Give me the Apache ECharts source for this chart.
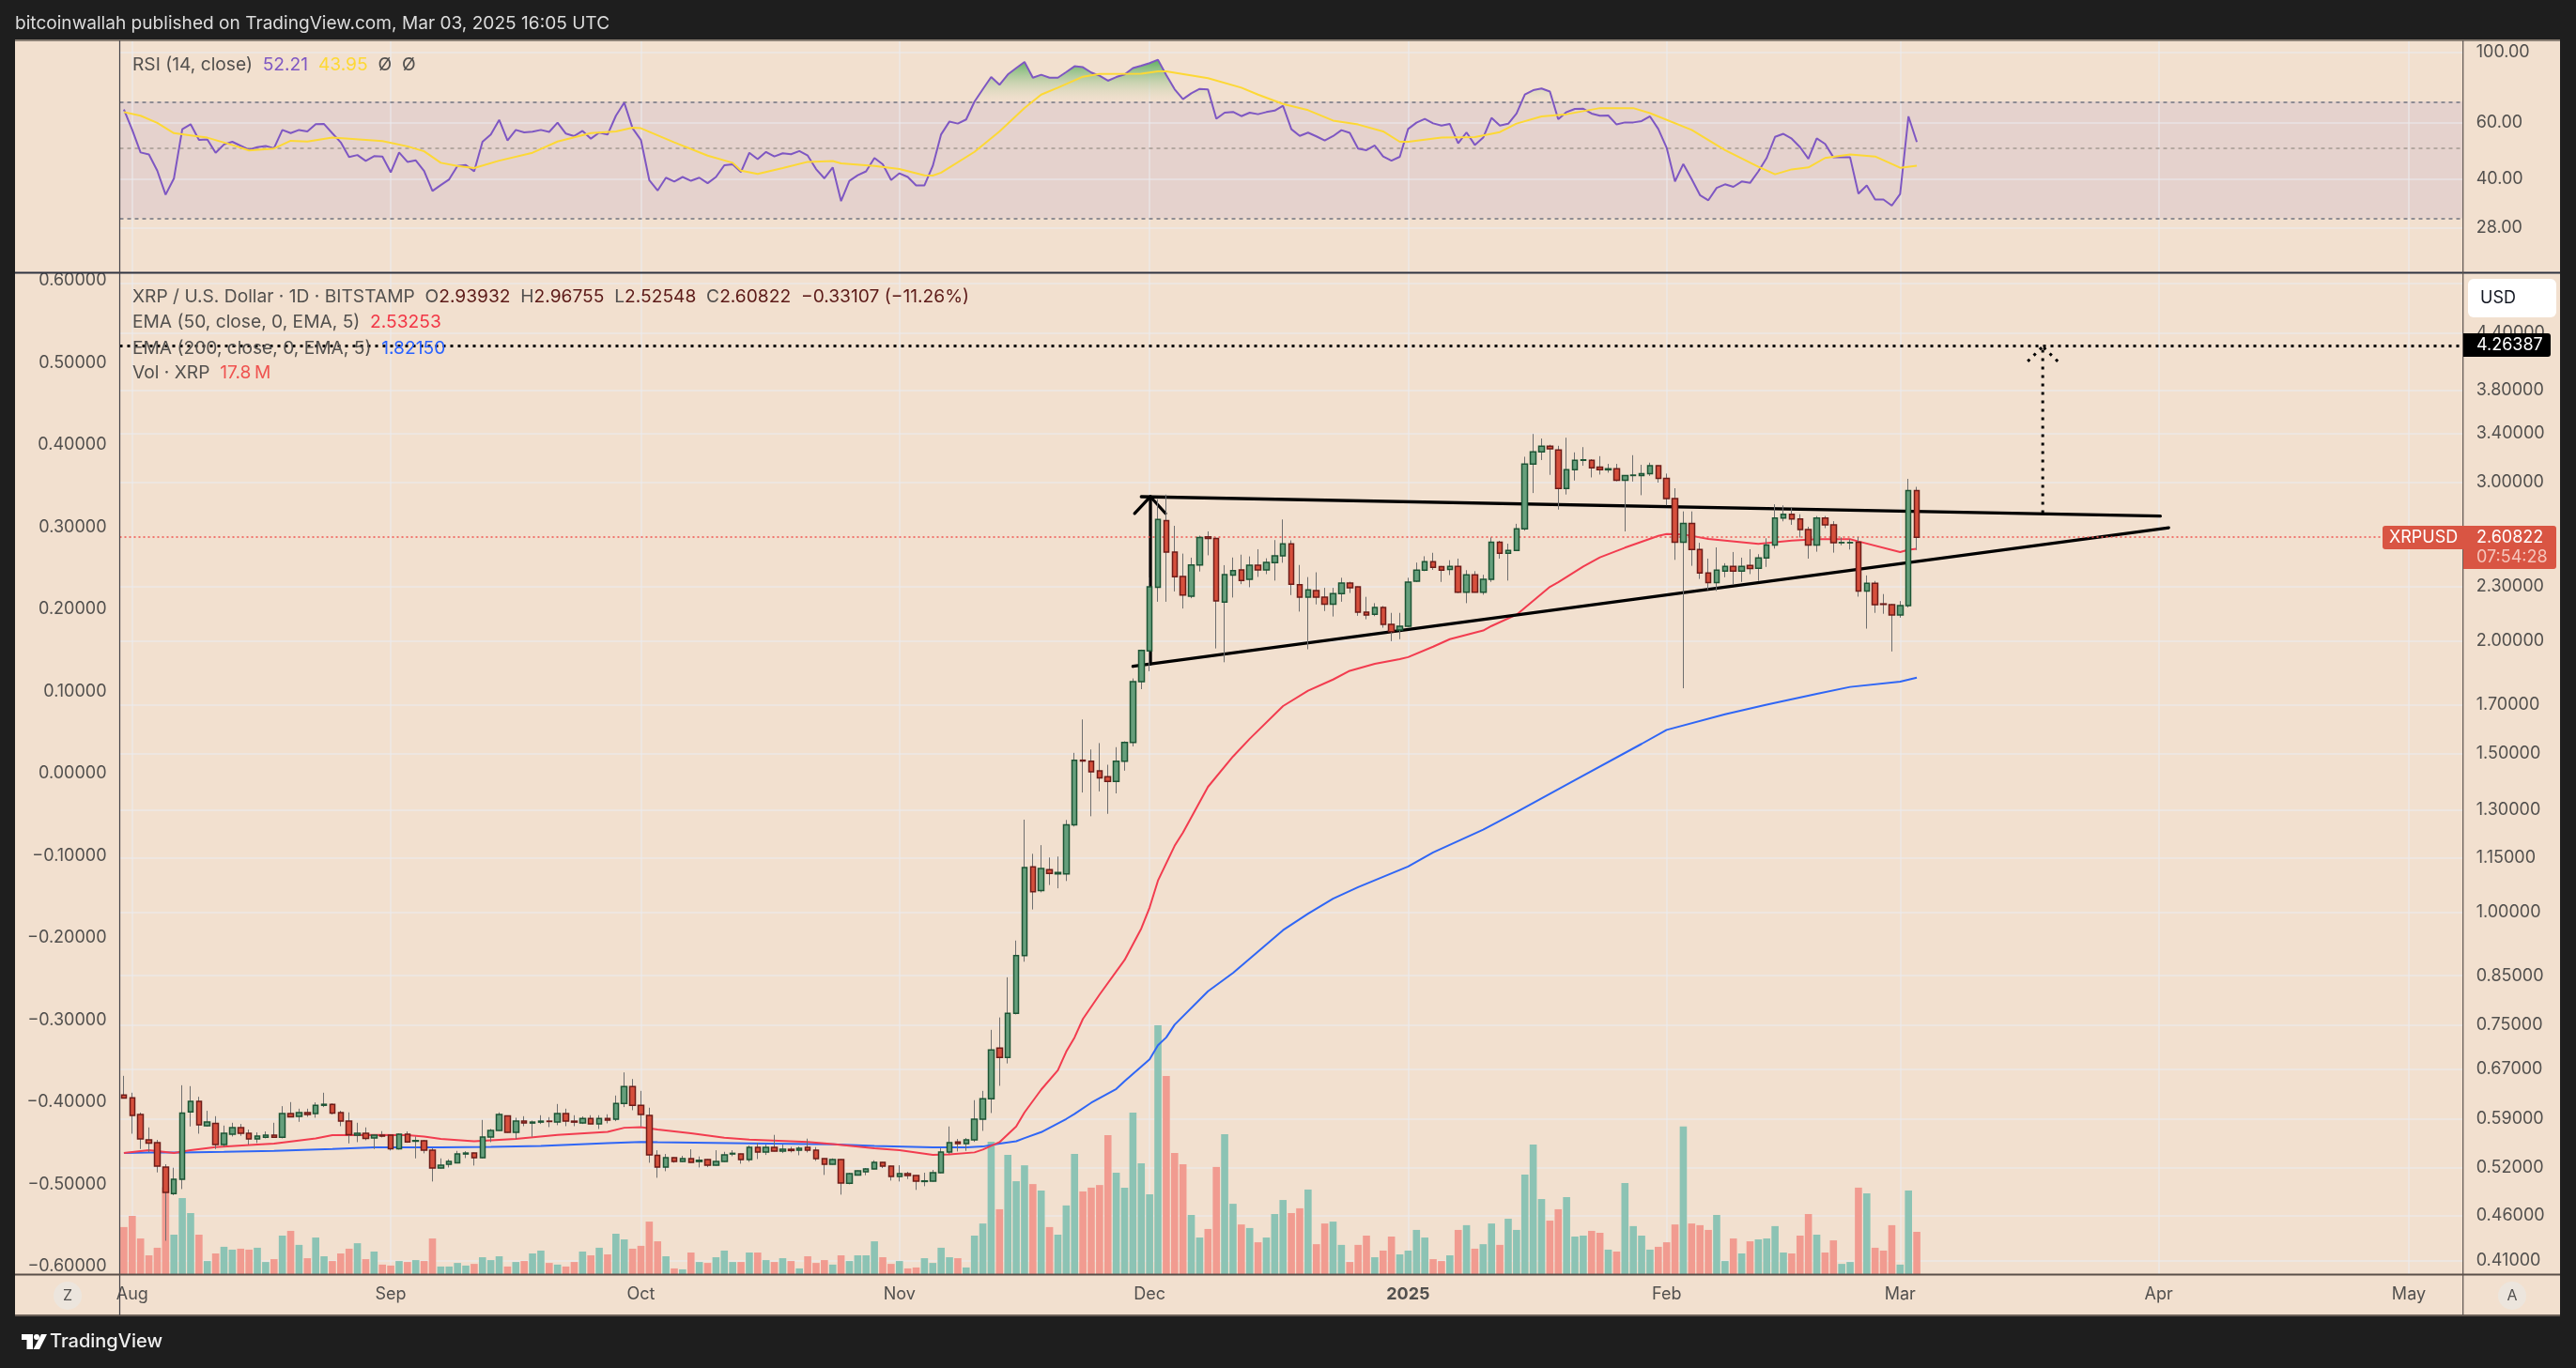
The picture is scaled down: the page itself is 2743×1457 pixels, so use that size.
<!DOCTYPE html>
<html><head><meta charset="utf-8"><style>html,body{margin:0;padding:0;background:#1e1e1e}#c{width:2743px;height:1457px}</style>
<script src="https://cdn.jsdelivr.net/npm/echarts@6/dist/echarts.min.js"></script></head><body><div id="c"></div><script>
// [open, high, low, close] one row per day from 2024-07-31
const ohlc=[
[.6267,.6580,.6218,.6218],[.6222,.6302,.5675,.5945],[.5960,.5990,.5457,.5599],[.5586,.5767,.5414,.5541],[.5545,.5586,.5140,.5223],
[.5210,.5248,.4316,.4883],[.4868,.5202,.4850,.5050],[.5050,.6424,.4926,.5983],[.6002,.6409,.5781,.6163],[.6163,.6237,.5675,.5804],
[.5790,.6017,.5780,.5846],[.5827,.5935,.5457,.5519],[.5519,.5794,.5488,.5680],[.5667,.5836,.5635,.5762],[.5762,.5818,.5644,.5680],
[.5680,.5735,.5519,.5599],[.5599,.5694,.5541,.5640],[.5622,.5708,.5608,.5653],[.5653,.5836,.5618,.5622],[.5622,.6089,.5608,.5974],
[.5974,.6153,.5922,.5926],[.5931,.6050,.5850,.5988],[.5988,.6050,.5926,.5960],[.5974,.6148,.5912,.6103],[.6103,.6302,.6075,.6118],
[.6118,.6133,.5960,.5983],[.5988,.6017,.5785,.5860],[.5860,.5993,.5536,.5662],[.5653,.5836,.5554,.5680],[.5680,.5767,.5581,.5608],
[.5613,.5660,.5457,.5653],[.5653,.5712,.5622,.5640],[.5653,.5660,.5436,.5462],[.5462,.5680,.5449,.5667],[.5667,.5708,.5545,.5558],
[.5567,.5635,.5328,.5576],[.5572,.5586,.5397,.5440],[.5440,.5466,.5022,.5197],[.5197,.5328,.5190,.5235],[.5248,.5316,.5206,.5285],
[.5268,.5431,.5262,.5388],[.5388,.5427,.5332,.5401],[.5401,.5410,.5231,.5337],[.5337,.5878,.5330,.5626],[.5626,.5744,.5554,.5721],
[.5721,.5993,.5715,.5960],[.5940,.5945,.5690,.5694],[.5694,.5912,.5599,.5860],[.5860,.5935,.5785,.5832],[.5832,.5869,.5631,.5846],
[.5846,.5950,.5818,.5860],[.5860,.5921,.5772,.5855],[.5846,.6123,.5800,.5974],[.5974,.6050,.5785,.5860],[.5860,.5950,.5785,.5846],
[.5832,.5931,.5818,.5902],[.5902,.5950,.5815,.5818],[.5818,.5950,.5744,.5902],[.5902,.5964,.5827,.5874],[.5888,.6257,.5860,.6133],
[.6133,.6638,.6075,.6404],[.6404,.6527,.6026,.6103],[.6103,.6332,.5781,.5960],[.5945,.6065,.5269,.5375],[.5370,.5440,.5070,.5210],
[.5210,.5388,.5156,.5337],[.5337,.5345,.5269,.5285],[.5285,.5362,.5280,.5324],[.5324,.5453,.5270,.5273],[.5285,.5354,.5206,.5302],
[.5311,.5318,.5210,.5235],[.5235,.5440,.5230,.5285],[.5285,.5418,.5280,.5375],[.5388,.5440,.5358,.5397],[.5388,.5392,.5256,.5311],
[.5311,.5506,.5281,.5479],[.5479,.5545,.5319,.5414],[.5414,.5519,.5375,.5479],[.5479,.5658,.5424,.5427],[.5427,.5519,.5401,.5453],
[.5453,.5488,.5410,.5436],[.5440,.5492,.5370,.5466],[.5479,.5604,.5410,.5440],[.5440,.5484,.5294,.5324],[.5324,.5328,.5107,.5248],
[.5248,.5328,.5244,.5311],[.5311,.5318,.4856,.5002],[.4998,.5136,.4986,.5123],[.5107,.5166,.5099,.5160],[.5148,.5197,.5103,.5185],
[.5185,.5302,.5180,.5273],[.5273,.5277,.5197,.5223],[.5223,.5228,.5034,.5086],[.5086,.5235,.5022,.5123],[.5123,.5148,.5054,.5099],
[.5099,.5103,.4915,.5026],[.5022,.5136,.4962,.5030],[.5026,.5173,.5020,.5136],[.5136,.5466,.5130,.5414],[.5414,.5781,.5388,.5545],
[.5558,.5599,.5423,.5532],[.5532,.5613,.5431,.5586],[.5586,.6183,.5558,.5888],[.5888,.6332,.5716,.6207],[.6207,.7401,.5983,.7032],
[.7065,.7640,.6414,.6898],[.6898,.8466,.6792,.7720],[.7720,.9300,.7700,.8950],[.8950,1.267,.8810,1.121],[1.123,1.161,1.007,1.054],
[1.057,1.187,1.052,1.118],[1.115,1.150,1.072,1.104],[1.103,1.153,1.063,1.107],[1.103,1.266,1.083,1.250],[1.250,1.503,1.245,1.475],
[1.475,1.637,1.358,1.472],[1.471,1.516,1.278,1.432],[1.435,1.541,1.362,1.410],[1.414,1.458,1.286,1.397],[1.397,1.525,1.355,1.471],
[1.471,1.548,1.436,1.544],[1.544,1.818,1.528,1.803],[1.803,1.957,1.769,1.953],[1.951,2.354,1.852,2.298],[2.296,2.876,2.212,2.730],
[2.722,2.909,2.212,2.511],[2.511,2.686,2.271,2.358],[2.360,2.502,2.174,2.250],[2.243,2.476,2.232,2.430],[2.430,2.619,2.390,2.607],
[2.612,2.648,2.491,2.600],[2.600,2.606,1.963,2.217],[2.210,2.429,1.895,2.371],[2.368,2.477,2.236,2.395],[2.400,2.495,2.314,2.335],
[2.342,2.484,2.296,2.428],[2.428,2.530,2.357,2.400],[2.400,2.472,2.374,2.446],[2.444,2.590,2.335,2.487],[2.487,2.730,2.444,2.565],
[2.565,2.588,2.250,2.314],[2.310,2.430,2.157,2.238],[2.238,2.356,1.959,2.280],[2.276,2.385,2.197,2.238],[2.238,2.292,2.160,2.198],
[2.198,2.292,2.130,2.258],[2.258,2.352,2.212,2.320],[2.320,2.328,2.262,2.292],[2.298,2.300,2.134,2.154],[2.154,2.240,2.115,2.138],
[2.142,2.204,2.132,2.180],[2.180,2.188,2.070,2.088],[2.088,2.150,2.000,2.049],[2.058,2.150,2.010,2.078],[2.078,2.352,2.074,2.326],
[2.331,2.445,2.326,2.398],[2.398,2.485,2.392,2.450],[2.450,2.507,2.400,2.415],[2.420,2.424,2.327,2.398],[2.402,2.460,2.368,2.421],
[2.421,2.470,2.262,2.267],[2.267,2.398,2.204,2.370],[2.370,2.392,2.265,2.267],[2.267,2.370,2.252,2.342],[2.342,2.608,2.327,2.576],
[2.576,2.585,2.470,2.504],[2.504,2.566,2.335,2.522],[2.522,2.700,2.518,2.666],[2.666,3.205,2.653,3.145],[3.145,3.397,2.921,3.246],
[3.246,3.358,3.178,3.293],[3.293,3.305,3.060,3.270],[3.262,3.296,2.800,2.955],[2.955,3.365,2.910,3.100],[3.100,3.241,3.016,3.176],
[3.176,3.285,3.132,3.180],[3.176,3.185,3.040,3.115],[3.122,3.210,3.062,3.100],[3.100,3.147,3.077,3.108],[3.108,3.147,3.010,3.018],
[3.018,3.058,2.648,3.055],[3.055,3.218,3.008,3.058],[3.055,3.140,2.905,3.070],[3.070,3.157,3.052,3.132],[3.132,3.136,3.000,3.033],
[3.033,3.070,2.830,2.880],[2.880,2.957,2.462,2.576],[2.576,2.787,1.773,2.703],[2.703,2.787,2.425,2.528],[2.528,2.572,2.345,2.381],
[2.381,2.470,2.280,2.323],[2.323,2.542,2.274,2.398],[2.392,2.441,2.355,2.421],[2.421,2.512,2.312,2.392],[2.392,2.476,2.327,2.421],
[2.427,2.530,2.374,2.408],[2.410,2.498,2.333,2.474],[2.474,2.602,2.418,2.558],[2.558,2.838,2.534,2.740],[2.740,2.830,2.717,2.767],
[2.767,2.814,2.693,2.733],[2.733,2.767,2.607,2.660],[2.660,2.680,2.470,2.558],[2.558,2.754,2.514,2.740],[2.740,2.754,2.670,2.692],
[2.692,2.718,2.508,2.572],[2.572,2.608,2.556,2.574],[2.572,2.596,2.528,2.574],[2.576,2.610,2.241,2.274],[2.274,2.366,2.065,2.319],
[2.319,2.333,2.150,2.195],[2.200,2.256,2.145,2.197],[2.195,2.200,1.948,2.139],[2.139,2.216,2.124,2.190],[2.190,3.029,2.180,2.939],
[2.93932,2.96755,2.52548,2.60822]];
const volumes=[19.8,24.5,15.0,7.9,11.1,36.6,16.6,32.0,25.7,16.6,5.5,8.7,11.5,10.3,10.7,10.3,11.1,5.1,6.3,16.2,
18.2,12.3,6.7,15.4,7.5,5.5,8.7,10.7,13.0,6.3,9.5,4.0,3.6,5.5,5.1,5.9,5.5,15.0,3.2,3.2,
4.7,3.6,4.3,7.1,5.9,7.5,3.2,5.1,5.5,8.7,9.9,4.7,4.0,3.2,5.1,9.5,7.9,11.1,8.3,17.0,
14.6,10.7,11.9,22.1,13.8,7.5,2.4,2.0,9.1,5.1,4.7,7.1,9.9,5.1,5.1,9.1,9.1,5.9,5.1,6.7,
5.5,2.4,7.5,4.7,5.9,4.0,7.9,5.5,7.9,7.9,13.8,7.1,4.3,5.5,2.4,2.8,6.7,4.7,11.1,7.1,
6.7,2.8,16.2,21.3,55.7,27.3,50.2,39.1,45.8,37.9,35.2,19.8,16.6,28.9,50.6,34.8,36.4,37.5,58.5,42.7,
36.4,68.0,46.6,33.6,104.7,83.4,51.0,46.2,24.9,15.4,19.0,45.1,58.9,29.6,20.9,19.4,13.4,15.4,25.3,31.2,
25.7,27.7,35.6,12.6,21.3,22.1,12.3,5.1,12.3,16.2,7.1,9.9,15.8,8.3,9.9,18.6,15.4,6.3,5.5,7.9,
18.6,20.6,10.7,12.6,21.3,12.3,23.3,18.6,41.9,54.5,31.6,22.5,27.3,32.4,15.8,16.2,18.2,17.4,10.3,9.5,
38.3,20.2,16.2,10.3,11.5,13.4,20.9,62.1,21.3,20.6,18.6,24.9,5.5,15.0,8.7,13.8,14.6,15.0,20.2,9.1,
8.7,16.2,25.3,16.6,9.1,14.2,4.3,5.1,36.4,34.0,11.1,9.9,20.6,4.0,35.2,17.8];
const rsi=[66.1,57.0,48.4,47.7,42.4,35.6,40.1,57.3,59.4,53.0,53.2,48.3,51.3,52.3,50.8,49.4,50.3,50.7,49.9,57.0,
55.7,57.0,56.4,59.4,59.5,55.6,52.1,46.8,47.5,45.5,47.1,47.0,41.9,48.4,45.2,45.7,42.3,36.6,38.2,39.8,
43.9,44.2,42.2,52.3,55.1,61.3,52.8,57.0,56.0,56.3,57.0,56.2,60.1,55.5,54.5,56.6,53.5,55.9,55.1,63.2,
69.5,57.7,53.0,39.6,36.7,40.3,39.2,40.5,39.4,40.3,38.7,40.5,44.1,44.4,42.0,48.3,46.1,48.6,47.0,48.1,
47.8,48.9,47.3,42.9,40.1,43.4,34.0,39.4,41.0,42.2,46.5,44.4,39.6,41.6,40.5,38.1,38.1,43.9,55.2,60.6,
59.7,61.5,70.0,76.6,83.7,79.1,85.3,89.3,93.4,83.3,85.1,83.3,83.3,86.8,90.5,89.9,86.5,84.5,81.5,83.7,
85.3,89.3,90.9,92.6,94.9,84.9,76.6,71.3,74.4,76.8,76.5,61.8,64.6,65.0,63.0,64.6,63.9,64.9,65.6,67.9,
57.3,54.6,55.9,54.4,52.8,54.5,56.9,55.8,49.8,49.2,50.9,47.0,45.6,46.9,57.4,60.1,61.8,59.8,58.8,59.5,
51.7,56.0,51.1,53.9,62.2,58.8,59.6,64.2,73.7,76.1,77.0,75.3,61.6,64.9,66.4,66.5,64.2,63.2,63.3,59.3,
60.2,60.2,60.8,62.9,57.4,50.1,39.2,44.5,39.9,35.5,34.2,37.4,38.4,37.7,39.2,38.8,42.2,46.5,54.2,55.4,
53.5,50.3,46.2,53.6,51.5,46.7,46.7,46.7,35.9,38.1,34.4,34.4,32.9,35.8,62.9,52.21];
// [day index, value] readings of the smooth lines
const rsiMa=[[0,64.9],[2,63.2],[4,60.0],[6,55.7],[8,54.8],[10,53.9],[13,51.1],[15,49.1],[18,49.8],[20,52.7],[22,52.4],[25,53.9],[31,52.6],[34,50.6],[36,48.8],[38,44.9],[40,43.9],[42,43.2],[45,45.6],[49,48.3],[52,52.4],[56,55.7],[59,56.4],[61,57.9],[62,57.7],[66,52.1],[70,47.3],[73,44.9],[74,42.4],[76,41.4],[79,43.2],[82,45.2],[85,45.5],[86,44.7],[90,43.9],[93,42.9],[96,41.0],[97,40.9],[98,41.8],[102,48.6],[105,56.4],[108,66.9],[110,73.7],[112,77.5],[115,83.9],[117,85.6],[122,85.8],[124,87.2],[125,87.2],[130,83.0],[134,77.5],[136,73.7],[139,68.8],[142,65.8],[145,61.0],[148,59.3],[151,56.4],[153,52.3],[154,52.3],[158,53.9],[162,54.1],[165,56.1],[167,59.7],[170,62.9],[173,63.9],[177,66.8],[181,66.8],[183,64.4],[188,57.0],[192,49.2],[196,43.6],[198,41.3],[200,42.8],[202,43.4],[204,46.5],[207,47.7],[210,47.0],[213,43.3],[215,43.95]];
const ema50=[[0,.5401],[3,.5440],[6,.5401],[8,.5440],[11,.5484],[16,.5519],[18,.5532],[23,.5608],[25,.5653],[30,.5658],[34,.5653],[36,.5635],[38,.5599],[42,.5567],[44,.5581],[47,.5599],[52,.5658],[58,.5703],[60,.5762],[62,.5772],[64,.5735],[68,.5680],[72,.5617],[75,.5590],[82,.5558],[85,.5528],[90,.5466],[93,.5440],[97,.5375],[99,.5384],[102,.5410],[103,.5449],[105,.5554],[107,.5781],[108,.5993],[110,.6352],[112,.6675],[113,.700],[114,.726],[115,.761],[117,.810],[120,.885],[122,.959],[123,1.012],[124,1.084],[126,1.185],[127,1.226],[130,1.378],[133,1.489],[135,1.558],[139,1.694],[142,1.762],[145,1.813],[147,1.854],[150,1.887],[153,1.910],[154,1.920],[157,1.972],[159,2.010],[163,2.055],[164,2.079],[167,2.140],[171,2.298],[172,2.325],[175,2.421],[177,2.478],[180,2.540],[184,2.618],[185,2.630],[187,2.628],[190,2.598],[196,2.565],[198,2.576],[200,2.587],[203,2.596],[207,2.596],[208,2.581],[213,2.512],[214,2.527],[215,2.53253]];
const ema200=[[0,.5401],[3,.5410],[7,.5410],[12,.5418],[18,.5431],[25,.5458],[30,.5479],[38,.5479],[44,.5488],[50,.5501],[58,.5541],[62,.5558],[64,.5554],[75,.5537],[85,.5523],[90,.5501],[97,.5479],[101,.5479],[103,.5492],[105,.5532],[107,.5567],[108,.5612],[110,.5698],[113,.5893],[114,.5969],[116,.6143],[119,.6363],[120,.6491],[122,.6738],[123,.6865],[124,.7117],[125,.7260],[126,.750],[130,.817],[133,.856],[139,.955],[142,.996],[145,1.035],[148,1.066],[154,1.124],[157,1.165],[163,1.235],[167,1.292],[174,1.402],[182,1.538],[185,1.594],[192,1.659],[197,1.700],[203,1.748],[207,1.779],[213,1.803],[215,1.8215]];
const startDate='2024-07-31', slotCount=281;
const monthTicks={'2024-08-01':'Aug','2024-09-01':'Sep','2024-10-01':'Oct','2024-11-01':'Nov','2024-12-01':'Dec','2025-01-01':'2025','2025-02-01':'Feb','2025-03-01':'Mar','2025-04-01':'Apr','2025-05-01':'May'};
const priceTicks=[4.4,3.8,3.4,3.0,2.3,2.0,1.7,1.5,1.3,1.15,1.0,.85,.75,.67,.59,.52,.46,.41];
const priceGridOnly=[5.0];
const rsiTicks=[100,60,40,28];
const leftTicks=[.6,.5,.4,.3,.2,.1,0,-.1,-.2,-.3,-.4,-.5,-.6];
const lastPrice=2.60822, targetPrice=4.26387;
const trendUpper=[[122.0,2.894],[244.2,2.754]];
const trendLower=[[121.0,1.875],[245.2,2.673]];
const riseArrow=[[123.1,1.887],[123.1,2.894]], riseLeft=[[121.2,2.773],[123.1,2.894]], riseRight=[[124.9,2.773],[123.1,2.894]];
const targetArrow=[[230.1,2.775],[230.1,4.249]], targetLeft=[[228.3,4.09],[230.1,4.249]], targetRight=[[231.9,4.09],[230.1,4.249]];

const categories=[];for(let i=0;i<slotCount;i++){const d=new Date(Date.parse(startDate+'T00:00:00Z')+i*864e5);categories.push(d.toISOString().slice(0,10));}
const monthKeys=Object.keys(monthTicks);
const FONT='Inter';
const labelCol='#52504e';
const gridCol='rgba(236,236,240,.72)';
const L=127.5,W=2495.2,LG=19.2;
const vGrid=monthKeys.map(k=>({xAxis:k}));
const vLine={symbol:'none',silent:true,z:1,label:{show:false},lineStyle:{color:gridCol,width:1.5,type:'solid'},data:vGrid};
const hideVal=(g)=>({type:'value',gridIndex:g,min:-0.5,max:slotCount-0.5,show:false});
const drawing=(name,d,dash)=>({name,type:'line',xAxisIndex:2,yAxisIndex:1,data:d,symbol:'none',z:5,silent:true,lineStyle:{color:'#000',width:dash?3:3.3,cap:dash?'butt':'round',type:dash?[3,6]:'solid'}});
const opt={
 animation:false,backgroundColor:'#1e1e1e',
 grid:[{left:L,top:44,width:W,height:246,show:true,backgroundColor:'#f2e0cf',borderWidth:0},
       {left:L,top:290,width:W,height:1067,show:true,backgroundColor:'#f2e0cf',borderWidth:0}],
 xAxis:[
  {type:'category',gridIndex:0,data:categories,show:false},
  {type:'category',gridIndex:1,data:categories,axisLine:{show:false},axisTick:{show:false},splitLine:{show:false},
   axisLabel:{margin:13,interval:(i,v)=>!!monthTicks[v],hideOverlap:false,color:labelCol,fontFamily:FONT,fontSize:18,
    formatter:v=>monthTicks[v]==='2025'?'{b|2025}':(monthTicks[v]||''),rich:{b:{fontFamily:FONT,fontSize:18,fontWeight:700,color:labelCol}}}},
  hideVal(1),hideVal(0)],
 yAxis:[
  {type:'log',logBase:10,gridIndex:0,min:20.27,max:108.5,position:'right',axisLine:{show:false},axisTick:{show:false},axisLabel:{show:false},splitLine:{show:false}},
  {type:'log',logBase:10,gridIndex:1,min:.3963,max:5.137,position:'right',axisLine:{show:false},axisTick:{show:false},axisLabel:{show:false},splitLine:{show:false}},
  {type:'value',gridIndex:1,min:-.6091,max:.6103,position:'left',axisLine:{show:false},axisTick:{show:false},splitLine:{show:false},
   axisLabel:{customValues:leftTicks,margin:14,color:labelCol,fontFamily:FONT,fontSize:18,formatter:v=>(v<-1e-9?'\u2212':'')+Math.abs(v).toFixed(5)}},
  {type:'value',gridIndex:1,min:0,max:421.7,show:false}],
 series:[
  {name:'rsiGrid',type:'line',xAxisIndex:3,yAxisIndex:0,data:[[0,50]],symbol:'none',lineStyle:{opacity:0},z:1,silent:true,clip:false,
   markArea:{silent:true,z:0,itemStyle:{color:'#e5d2cd'},data:[[{yAxis:70},{yAxis:30}]]},
   markLine:{symbol:'none',silent:true,z:1,precision:2,
    label:{show:true,position:'end',distance:14,color:labelCol,fontFamily:FONT,fontSize:18,formatter:'{b}'},
    lineStyle:{color:gridCol,width:1.5,type:'solid'},
    data:rsiTicks.map(v=>({yAxis:v,name:v.toFixed(2)}))}},
  {name:'rsiMonths',type:'line',xAxisIndex:0,yAxisIndex:0,data:[],symbol:'none',z:1,silent:true,markLine:vLine},
  {name:'rsiBands',type:'line',xAxisIndex:3,yAxisIndex:0,data:[[0,50]],symbol:'none',lineStyle:{opacity:0},z:1,silent:true,
   markLine:{symbol:'none',silent:true,z:2,label:{show:false},lineStyle:{color:'#787b86',width:1.6,type:[4,4]},
    data:[{yAxis:70},{yAxis:30},{yAxis:50,lineStyle:{color:'#a89e96',width:1.6,type:[4,4]}}]}},
  {name:'rsiOverbought',type:'line',xAxisIndex:0,yAxisIndex:0,data:rsi.map(v=>Math.max(v,70)),symbol:'none',z:2,silent:true,lineStyle:{width:0,opacity:0},
   areaStyle:{origin:70,opacity:1,color:{type:'linear',x:0,y:0,x2:0,y2:1,colorStops:[{offset:0,color:'rgba(92,176,96,1)'},{offset:1,color:'rgba(242,224,207,.25)'}]}}},
  {name:'RSI',type:'line',xAxisIndex:0,yAxisIndex:0,data:rsi,symbol:'none',z:3,silent:true,lineStyle:{color:'#7e57c2',width:2}},
  {name:'RSI MA',type:'line',xAxisIndex:3,yAxisIndex:0,data:rsiMa,symbol:'none',z:3,silent:true,lineStyle:{color:'#fdd835',width:2}},
  {name:'priceGrid',type:'line',xAxisIndex:2,yAxisIndex:1,data:[[0,1]],symbol:'none',lineStyle:{opacity:0},z:1,silent:true,clip:false,
   markLine:{symbol:'none',silent:true,z:1,
    label:{show:true,position:'end',distance:14,color:labelCol,fontFamily:FONT,fontSize:18,formatter:'{b}'},
    lineStyle:{color:gridCol,width:1.5,type:'solid'},
    data:priceTicks.map(v=>({yAxis:v,name:v.toFixed(5)})).concat(priceGridOnly.map(v=>({yAxis:v,label:{show:false}})))}},
  {name:'priceMonths',type:'line',xAxisIndex:1,yAxisIndex:1,data:[],symbol:'none',z:1,silent:true,markLine:vLine},
  {name:'Volume',type:'bar',xAxisIndex:1,yAxisIndex:3,barWidth:7.6,z:2,silent:true,
   data:volumes.map((v,i)=>({value:v,itemStyle:{color:ohlc[i][3]<ohlc[i][0]?'#f19b90':'#8cc3b4'}}))},
  {name:'EMA 200',type:'line',xAxisIndex:2,yAxisIndex:1,data:ema200,symbol:'none',z:4,silent:true,lineStyle:{color:'#2f66f5',width:2}},
  {name:'EMA 50',type:'line',xAxisIndex:2,yAxisIndex:1,data:ema50,symbol:'none',z:4,silent:true,lineStyle:{color:'#f23c4f',width:2}},
  drawing('upper',trendUpper),drawing('lower',trendLower),drawing('rise',riseArrow),drawing('riseL',riseLeft),drawing('riseR',riseRight),
  drawing('target',targetArrow,true),drawing('targetL',targetLeft,true),drawing('targetR',targetRight,true),
  {name:'levels',type:'line',xAxisIndex:2,yAxisIndex:1,data:[[0,1]],symbol:'none',lineStyle:{opacity:0},z:5,silent:true,
   markLine:{symbol:'none',silent:true,z:6,label:{show:false},
    data:[{yAxis:targetPrice,lineStyle:{color:'#000',width:3,type:[3,5]}},{yAxis:lastPrice,lineStyle:{color:'#ef5350',width:1.5,type:[2,3]}}]}},
  {name:'wicks',type:'candlestick',xAxisIndex:1,yAxisIndex:1,barWidth:1,z:7,silent:true,
   itemStyle:{color:'#6f6f6f',color0:'#6f6f6f',borderColor:'#6f6f6f',borderColor0:'#6f6f6f',borderWidth:1},
   data:ohlc.map(r=>[r[0],r[3],r[2],r[1]])},
  {name:'XRPUSD',type:'candlestick',xAxisIndex:1,yAxisIndex:1,barWidth:6,z:8,silent:true,
   itemStyle:{color:'#669f7c',color0:'#d64f3c',borderColor:'#1d5434',borderColor0:'#6e1c18',borderWidth:1.5},
   data:ohlc.map(r=>[r[0],r[3],Math.min(r[0],r[3]),Math.max(r[0],r[3])])}
 ],
 graphic:{elements:[
  {type:'rect',z:-5,shape:{x:16,y:43,width:2710,height:1358},style:{fill:'#f2e0cf'}},
  {type:'line',z:20,shape:{x1:16,y1:43,x2:2726,y2:43},style:{stroke:'#8b8075',lineWidth:2}},
  {type:'line',z:20,shape:{x1:16,y1:1401,x2:2726,y2:1401},style:{stroke:'#6a5f57',lineWidth:2}},
  {type:'line',z:20,shape:{x1:16,y1:290.5,x2:2726,y2:290.5},style:{stroke:'#2f3340',lineWidth:2}},
  {type:'line',z:20,shape:{x1:127.5,y1:43,x2:127.5,y2:1401},style:{stroke:'#45434a',lineWidth:1.2}},
  {type:'line',z:20,shape:{x1:2622.7,y1:43,x2:2622.7,y2:1401},style:{stroke:'#5a534e',lineWidth:1.2}},
  {type:'line',z:20,shape:{x1:16,y1:1357.5,x2:2726,y2:1357.5},style:{stroke:'#5a4f49',lineWidth:2}},
  {type:'text',z:30,x:16,y:25,style:{text:'bitcoinwallah published on TradingView.com, Mar 03, 2025 16:05 UTC',fill:'#dcdcdc',font:'19.1px '+FONT,verticalAlign:'middle'}},
  {type:'text',z:30,x:141,y:69,style:{verticalAlign:'middle',text:'{a|RSI (14, close)}  {p|52.21}  {y|43.95}  {a|\u00d8}  {a|\u00d8}',font:LG+'px '+FONT,
    rich:{a:{fill:'#52504e',fontSize:LG,fontFamily:FONT},p:{fill:'#7e57c2',fontSize:LG,fontFamily:FONT},y:{fill:'#fdd835',fontSize:LG,fontFamily:FONT}}}},
  {type:'text',z:30,x:141,y:316,style:{verticalAlign:'middle',text:'{a|XRP / U.S. Dollar \u00b7 1D \u00b7 BITSTAMP}  {a|O}{r|2.93932}  {a|H}{r|2.96755}  {a|L}{r|2.52548}  {a|C}{r|2.60822}  {r|\u22120.33107 (\u221211.26%)}',font:LG+'px '+FONT,
    rich:{a:{fill:'#52504e',fontSize:LG,fontFamily:FONT},r:{fill:'#5c1a18',fontSize:LG,fontFamily:FONT}}}},
  {type:'text',z:30,x:141,y:343,style:{verticalAlign:'middle',text:'{a|EMA (50, close, 0, EMA, 5)}  {r|2.53253}',font:LG+'px '+FONT,
    rich:{a:{fill:'#52504e',fontSize:LG,fontFamily:FONT},r:{fill:'#f23645',fontSize:LG,fontFamily:FONT}}}},
  {type:'text',z:30,x:141,y:371,style:{verticalAlign:'middle',text:'{a|EMA (200, close, 0, EMA, 5)}  {r|1.82150}',font:LG+'px '+FONT,
    rich:{a:{fill:'#52504e',fontSize:LG,fontFamily:FONT},r:{fill:'#2962ff',fontSize:LG,fontFamily:FONT}}}},
  {type:'text',z:30,x:141,y:397,style:{verticalAlign:'middle',text:'{a|Vol \u00b7 XRP}  {r|17.8\u2009M}',font:LG+'px '+FONT,
    rich:{a:{fill:'#52504e',fontSize:LG,fontFamily:FONT},r:{fill:'#ef5350',fontSize:LG,fontFamily:FONT}}}},
  {type:'rect',z:40,shape:{x:2628,y:297,width:94,height:41,r:6},style:{fill:'#ffffff'}},
  {type:'text',z:41,x:2641,y:318,style:{text:'USD',fill:'#131722',font:'18px '+FONT,verticalAlign:'middle'}},
  {type:'rect',z:40,shape:{x:2623,y:355,width:93,height:25,r:[0,3,3,0]},style:{fill:'#000'}},
  {type:'text',z:41,x:2637,y:368,style:{text:'4.26387',fill:'#fff',font:'18px '+FONT,verticalAlign:'middle'}},
  {type:'rect',z:40,shape:{x:2537,y:560,width:87,height:25,r:[3,0,0,3]},style:{fill:'#d95543'}},
  {type:'text',z:41,x:2544,y:573,style:{text:'XRPUSD',fill:'#fff',font:'18px '+FONT,verticalAlign:'middle'}},
  {type:'rect',z:40,shape:{x:2623,y:560,width:99,height:46,r:[0,3,3,0]},style:{fill:'#d95543'}},
  {type:'text',z:41,x:2637,y:573,style:{text:'2.60822',fill:'#fff',font:'18px '+FONT,verticalAlign:'middle'}},
  {type:'text',z:41,x:2637,y:594,style:{text:'07:54:28',fill:'#f5c5bc',font:'18px '+FONT,verticalAlign:'middle'}},
  {type:'circle',z:30,shape:{cx:72,cy:1380,r:15},style:{fill:'#ece5dd'}},
  {type:'text',z:31,x:72,y:1380,style:{text:'Z',fill:'#52504e',font:'16px '+FONT,align:'center',verticalAlign:'middle'}},
  {type:'circle',z:30,shape:{cx:2675,cy:1380,r:15},style:{fill:'#ece5dd'}},
  {type:'text',z:31,x:2675,y:1380,style:{text:'A',fill:'#52504e',font:'16px '+FONT,align:'center',verticalAlign:'middle'}},
  {type:'polygon',z:30,shape:{points:[[23,1421],[35,1421],[35,1437],[28.5,1437],[28.5,1427],[23,1427]]},style:{fill:'#fff'}},
  {type:'circle',z:30,shape:{cx:39,cy:1424,r:3},style:{fill:'#fff'}},
  {type:'polygon',z:30,shape:{points:[[44,1421],[50,1421],[42,1437],[35.5,1437]]},style:{fill:'#fff'}},
  {type:'text',z:30,x:53,y:1429,style:{text:'TradingView',fill:'#f0f0f0',font:'500 20px '+FONT,verticalAlign:'middle'}}
 ]}
};
const chart=echarts.init(document.getElementById('c'),null,{renderer:'canvas',width:2743,height:1457});
chart.setOption(opt);
</script></body></html>
